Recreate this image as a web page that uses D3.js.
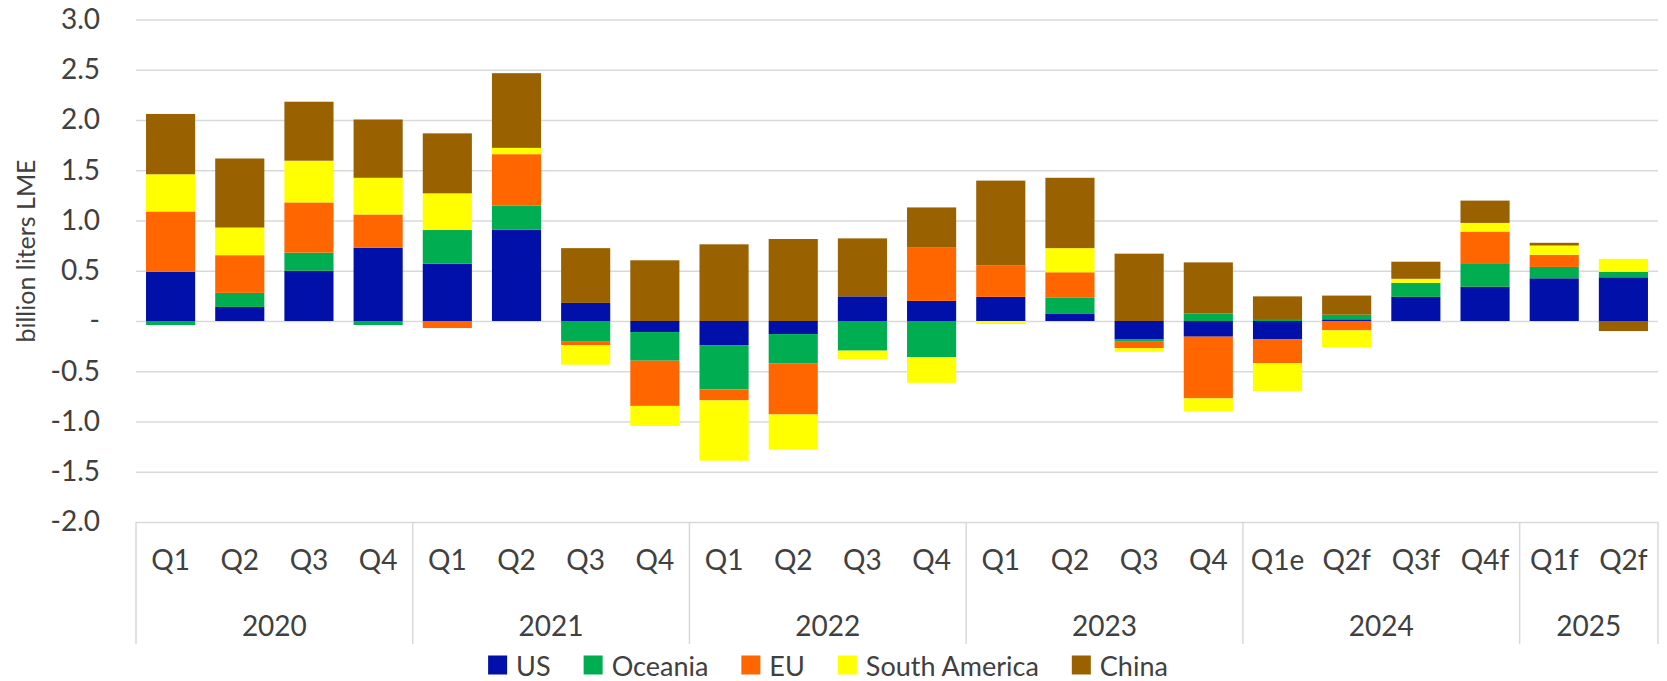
<!DOCTYPE html>
<html lang="en">
<head>
  <meta charset="UTF-8" />
  <title>Net exports by origin</title>
  <script src="https://cdn.jsdelivr.net/npm/d3@7"></script>
  <style>
    body
      {
      margin: 0;
      background-color: #ffffff;
      }
    text
      {
      font-family: Lato, "Open Sans", sans-serif;
      fill: #404040;
      }
    .grid line
      {
      stroke: #d9d9d9;
      stroke-width: 1.5;
      }
  </style>
</head>
<body>
<div id="chart"></div>

<script>
// quarter tick labels and year groups
const quarters = ["Q1","Q2","Q3","Q4","Q1","Q2","Q3","Q4","Q1","Q2","Q3","Q4",
                  "Q1","Q2","Q3","Q4","Q1e","Q2f","Q3f","Q4f","Q1f","Q2f"];
const years = ["2020","2021","2022","2023","2024","2025"];
const yearSpan = [4, 4, 4, 4, 4, 2];

// billion liters LME
const US      = [0.49, 0.14, 0.50, 0.73, 0.57, 0.91, 0.18, -0.11, -0.24, -0.13, 0.245, 0.20,
                 0.24, 0.07, -0.18, -0.156, -0.18, 0.017, 0.24, 0.34, 0.425, 0.435];
const Oceania = [-0.04, 0.14, 0.18, -0.04, 0.335, 0.24, -0.20, -0.285, -0.44, -0.29, -0.295, -0.36,
                 0, 0.165, -0.02, 0.076, 0.02, 0.046, 0.14, 0.235, 0.113, 0.053];
const EU      = [0.60, 0.375, 0.50, 0.33, -0.07, 0.51, -0.04, -0.45, -0.11, -0.51, 0, 0.53,
                 0.315, 0.25, -0.07, -0.614, -0.24, -0.093, 0, 0.315, 0.12, 0];
const SouthAmerica = [0.37, 0.275, 0.415, 0.365, 0.365, 0.063, -0.195, -0.20, -0.60, -0.35, -0.083, -0.255,
                 -0.03, 0.24, -0.036, -0.126, -0.276, -0.17, 0.04, 0.086, 0.093, 0.13];
const China   = [0.60, 0.687, 0.587, 0.58, 0.597, 0.743, 0.545, 0.604, 0.763, 0.816, 0.577, 0.40,
                 0.842, 0.70, 0.67, 0.507, 0.225, 0.19, 0.17, 0.222, 0.027, -0.10];

const seriesNames = ["US", "Oceania", "EU", "South America", "China"];
const seriesValues = [US, Oceania, EU, SouthAmerica, China];
const colors = ["#0010a8", "#00ad50", "#ff6600", "#ffff00", "#996100"];
const yTicks = [-2, -1.5, -1, -0.5, 0, 0.5, 1, 1.5, 2, 2.5, 3];

const W = 1667, H = 681;
const margin = { top: 19.5, right: 9, bottom: 159, left: 136 },
      width = W - margin.left - margin.right,
      height = H - margin.top - margin.bottom;

const table = quarters.map((q, i) => {
  const row = { idx: i };
  seriesNames.forEach((s, k) => row[s] = seriesValues[k][i]);
  return row;
});

const svg = d3.select("#chart").append("svg")
  .attr("width", W)
  .attr("height", H);

const g = svg.append("g")
  .attr("transform", `translate(${margin.left},${margin.top})`);

const x = d3.scaleBand()
  .domain(d3.range(quarters.length))
  .range([0, width])
  .paddingInner(0.29)
  .paddingOuter(0.145);

const y = d3.scaleLinear()
  .domain([-2, 3])
  .range([height, 0]);

const color = d3.scaleOrdinal().domain(seriesNames).range(colors);

// gridlines + value labels (plain hyphen, "-" for zero like the source)
const yAxis = g.append("g")
  .attr("class", "grid")
  .call(d3.axisLeft(y)
    .tickValues(yTicks)
    .tickSize(-width)
    .tickPadding(36)
    .tickFormat(d => d === 0 ? "-" : d3.format(".1f")(d).replace("\u2212", "-")));
yAxis.select(".domain").remove();
yAxis.selectAll("text").style("font-size", "28px");

// stacked bars
const stacked = d3.stack()
  .keys(seriesNames)
  .offset(d3.stackOffsetDiverging)(table);

g.append("g").selectAll("g")
  .data(stacked)
  .join("g")
    .attr("fill", d => color(d.key))
  .selectAll("rect")
  .data(d => d)
  .join("rect")
    .attr("x", d => x(d.data.idx))
    .attr("width", x.bandwidth())
    .attr("y", d => y(Math.max(d[0], d[1])))
    .attr("height", d => Math.abs(y(d[0]) - y(d[1])));

// category axis: quarters
const xAxis = g.append("g")
  .attr("transform", `translate(0,${height})`)
  .call(d3.axisBottom(x).tickSize(0).tickPadding(28).tickFormat(i => quarters[i]));
xAxis.select(".domain").remove();
xAxis.selectAll("text").style("font-size", "28px");

// year groups and separators
const boundary = i => i === 0 ? 0 : (i >= quarters.length ? width : x(i) - x.step() * x.paddingInner() / 2);
let start = 0;
const groups = years.map((yr, k) => {
  const grp = { year: yr, from: start, to: start + yearSpan[k] };
  start += yearSpan[k];
  return grp;
});

const sep = g.append("g").attr("class", "grid");
sep.selectAll("line")
  .data([0, ...groups.map(d => d.to)])
  .join("line")
    .attr("x1", d => boundary(d))
    .attr("x2", d => boundary(d))
    .attr("y1", height)
    .attr("y2", height + 122);

g.append("g").selectAll("text")
  .data(groups)
  .join("text")
    .attr("x", d => (boundary(d.from) + boundary(d.to)) / 2)
    .attr("y", height + 103)
    .attr("text-anchor", "middle")
    .attr("dominant-baseline", "central")
    .style("font-size", "28px")
    .text(d => d.year);

// axis title
svg.append("text")
  .attr("transform", "rotate(-90)")
  .attr("x", -251)
  .attr("y", 35)
  .attr("text-anchor", "middle")
  .style("font-size", "25px")
  .text("billion liters LME");

// legend
const legend = svg.append("g");
const items = legend.selectAll("g")
  .data(seriesNames)
  .join("g");
items.append("rect")
  .attr("width", 19)
  .attr("height", 19)
  .attr("y", -9.5)
  .attr("fill", d => color(d));
items.append("text")
  .attr("x", 28)
  .attr("dominant-baseline", "central")
  .style("font-size", "27px")
  .text(d => d);

let pos = 0;
items.each(function () {
  d3.select(this).attr("transform", `translate(${pos},0)`);
  pos += 28 + this.querySelector("text").getComputedTextLength() + 33;
});
const legendWidth = pos - 33;
legend.attr("transform", `translate(${828 - legendWidth / 2},665)`);
</script>
</body>
</html>
